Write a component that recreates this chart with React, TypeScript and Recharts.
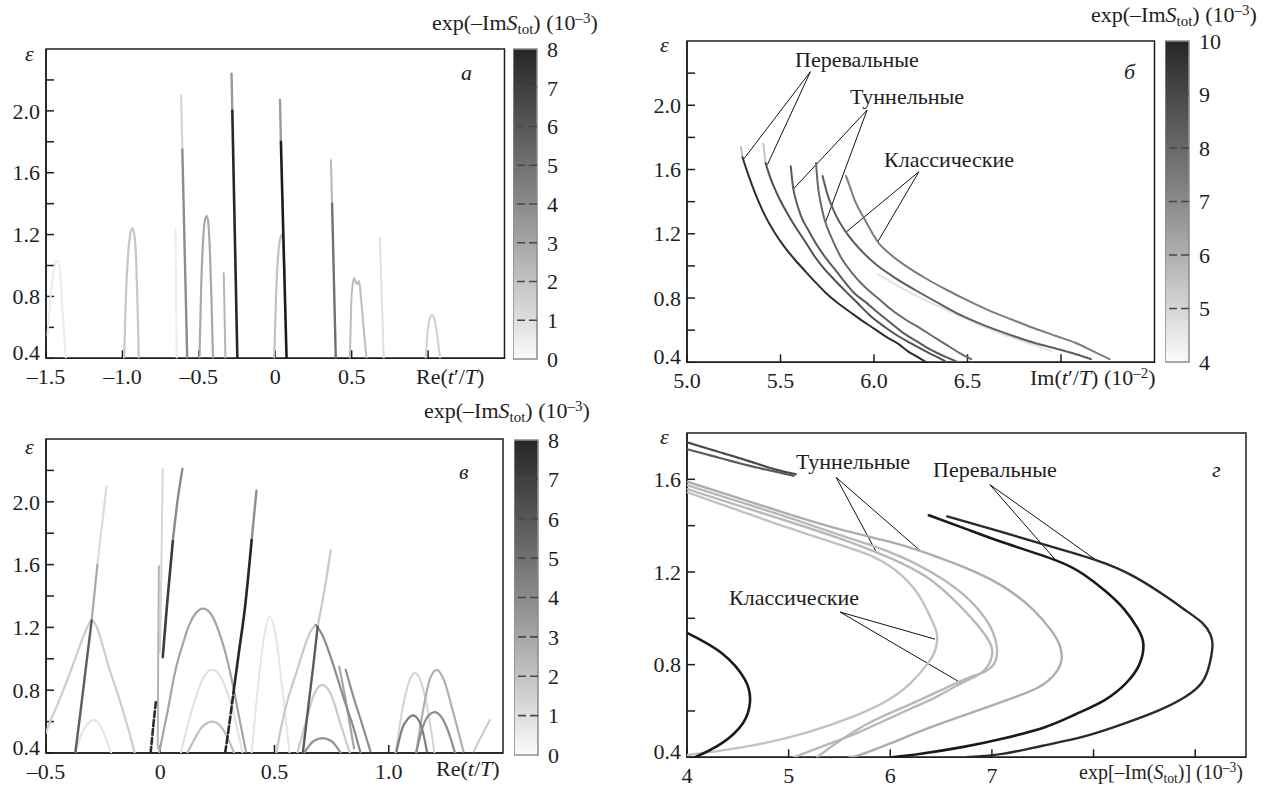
import React from 'react'
import { ScatterChart, Scatter, XAxis, YAxis, ReferenceArea, ReferenceLine } from 'recharts'

const FONT = '"Liberation Serif", "Times New Roman", serif'
const INK = '#1e1e1e'
const FS = 22

// shared ε axis
const epsTicks = [0.4, 0.6, 0.8, 1.0, 1.2, 1.4, 1.6, 1.8, 2.0, 2.2]
const epsText = ['0.4', '', '0.8', '', '1.2', '', '1.6', '', '2.0', '']

// ---- panel а : Re(t'/T) ----
const aXTicks = [-1.5, -1, -0.5, 0, 0.5, 1]
const aXText = ['–1.5', '–1.0', '–0.5', '0', '0.5', '']
const aArchEdge = [[-1.49, 0.55], [-1.47, 0.8], [-1.45, 0.97], [-1.425, 1.03], [-1.405, 0.92], [-1.39, 0.68], [-1.37, 0.4]]
const aArchM095 = [[-0.989, 0.4], [-0.977, 0.8], [-0.962, 1.08], [-0.947, 1.21], [-0.935, 1.24], [-0.922, 1.2], [-0.911, 1.05], [-0.901, 0.75], [-0.893, 0.4]]
const aFaintM065 = [[-0.653, 1.24], [-0.645, 0.4]]
const aLineM06Top = [[-0.616, 2.1], [-0.608, 1.75]]
const aLineM06 = [[-0.608, 1.75], [-0.576, 0.4]]
const aArchM045 = [[-0.496, 0.4], [-0.485, 0.85], [-0.471, 1.18], [-0.459, 1.3], [-0.45, 1.32], [-0.44, 1.29], [-0.43, 1.15], [-0.418, 0.8], [-0.407, 0.4]]
const aShortM033 = [[-0.337, 0.95], [-0.326, 0.4]]
const aDarkM028Top = [[-0.286, 2.24], [-0.281, 2.0]]
const aDarkM028 = [[-0.281, 2.0], [-0.248, 0.4]]
const aArch004 = [[-0.007, 0.4], [0.005, 0.8], [0.02, 1.08], [0.034, 1.18], [0.042, 1.2], [0.05, 1.17], [0.056, 1.05], [0.06, 0.95]]
const aDark005Top = [[0.031, 2.07], [0.037, 1.8]]
const aDark005 = [[0.037, 1.8], [0.074, 0.4]]
const aLine037Top = [[0.364, 1.68], [0.372, 1.4]]
const aLine037 = [[0.372, 1.4], [0.396, 0.4]]
const aArch052 = [[0.488, 0.4], [0.497, 0.75], [0.507, 0.88], [0.516, 0.92], [0.527, 0.89], [0.537, 0.88], [0.548, 0.9], [0.56, 0.8], [0.578, 0.6], [0.597, 0.4]]
const aFaint07 = [[0.684, 1.18], [0.71, 0.4]]
const aArch103 = [[0.984, 0.4], [0.998, 0.58], [1.012, 0.665], [1.025, 0.68], [1.04, 0.66], [1.058, 0.56], [1.079, 0.4]]

// ---- panel б : Im(t'/T) ----
const bXTicks = [5.0, 5.5, 6.0, 6.5, 7.0]
const bXText = ['5.0', '5.5', '6.0', '6.5', '']
const bSaddle1Tip = [[5.288, 1.74], [5.297, 1.675]]
const bSaddle1 = [[5.297, 1.675], [5.33, 1.56], [5.363, 1.456], [5.41, 1.33], [5.469, 1.206], [5.52, 1.12], [5.576, 1.04], [5.63, 0.97], [5.682, 0.904], [5.74, 0.835], [5.806, 0.769], [5.87, 0.715], [5.93, 0.664], [6.0, 0.61], [6.07, 0.555], [6.13, 0.515], [6.18, 0.47], [6.23, 0.435], [6.28, 0.4]]
const bSaddle2Tip = [[5.408, 1.76], [5.42, 1.64]]
const bSaddle2 = [[5.42, 1.64], [5.45, 1.535], [5.487, 1.435], [5.53, 1.34], [5.576, 1.25], [5.63, 1.155], [5.682, 1.06], [5.735, 0.98], [5.788, 0.914], [5.85, 0.84], [5.912, 0.769], [5.98, 0.69], [6.054, 0.623], [6.12, 0.57], [6.196, 0.519], [6.29, 0.46], [6.36, 0.42], [6.39, 0.4]]
const bTunnel1 = [[5.555, 1.62], [5.567, 1.49], [5.585, 1.4], [5.61, 1.31], [5.655, 1.21], [5.7, 1.12], [5.745, 1.045], [5.79, 0.98], [5.84, 0.905], [5.895, 0.83], [5.96, 0.77], [6.02, 0.71], [6.09, 0.645], [6.16, 0.58], [6.23, 0.53], [6.3, 0.48], [6.38, 0.435], [6.45, 0.4]]
const bTunnel2 = [[5.69, 1.64], [5.7, 1.5], [5.715, 1.39], [5.735, 1.29], [5.775, 1.17], [5.82, 1.06], [5.88, 0.96], [5.95, 0.87], [6.02, 0.8], [6.09, 0.73], [6.17, 0.665], [6.25, 0.61], [6.33, 0.55], [6.4, 0.5], [6.47, 0.45], [6.52, 0.42]]
const bClassic1 = [[5.725, 1.56], [5.75, 1.45], [5.79, 1.33], [5.85, 1.21], [5.92, 1.11], [6.0, 1.02], [6.1, 0.935], [6.22, 0.85], [6.35, 0.765], [6.47, 0.69], [6.6, 0.625], [6.73, 0.57], [6.86, 0.52], [6.99, 0.48], [7.08, 0.45], [7.16, 0.42]]
const bClassic2 = [[5.85, 1.56], [5.86, 1.53], [5.9, 1.4], [5.95, 1.29], [6.02, 1.15], [6.09, 1.07], [6.17, 1.0], [6.28, 0.92], [6.39, 0.85], [6.5, 0.785], [6.62, 0.72], [6.74, 0.665], [6.86, 0.61], [6.97, 0.565], [7.08, 0.52], [7.17, 0.47], [7.26, 0.42]]
const bFaint = [[6.02, 0.95], [6.12, 0.88], [6.25, 0.8], [6.4, 0.72], [6.55, 0.64], [6.7, 0.57], [6.85, 0.51], [6.95, 0.47]]

// ---- panel в : Re(t/T) ----
const cXTicks = [-0.5, 0, 0.5, 1.0]
const cXText = ['–0.5', '0', '0.5', '1.0']
const cArchBig = [[-0.5, 0.53], [-0.49, 0.57], [-0.452, 0.7], [-0.395, 0.91], [-0.345, 1.11], [-0.32, 1.2], [-0.3, 1.245], [-0.28, 1.21], [-0.255, 1.1], [-0.23, 0.97], [-0.178, 0.74], [-0.127, 0.485], [-0.112, 0.4]]
const cArchLow = [[-0.37, 0.4], [-0.345, 0.52], [-0.32, 0.58], [-0.293, 0.61], [-0.265, 0.58], [-0.24, 0.5], [-0.215, 0.4]]
const cSteep1 = [[-0.372, 0.4], [-0.35, 0.65], [-0.325, 0.95], [-0.3, 1.245]]
const cSteep1Mid = [[-0.3, 1.245], [-0.275, 1.6]]
const cSteep1Top = [[-0.275, 1.6], [-0.255, 1.85], [-0.235, 2.1]]
const cVertTop = [[-0.001, 1.04], [0.005, 1.6], [0.011, 2.21]]
const cVert = [[-0.011, 0.43], [-0.009, 1.0], [-0.006, 1.59]]
const cVertDark = [[-0.042, 0.4], [-0.03, 0.58], [-0.018, 0.74]]
const cSteep2 = [[0.011, 1.01], [0.03, 1.35], [0.055, 1.75]]
const cSteep2Top = [[0.055, 1.75], [0.075, 2.0], [0.097, 2.21]]
const cArchMid = [[-0.005, 0.4], [0.03, 0.65], [0.067, 0.93], [0.1, 1.1], [0.125, 1.21], [0.155, 1.29], [0.187, 1.32], [0.22, 1.29], [0.255, 1.18], [0.285, 1.04], [0.313, 0.866], [0.345, 0.63], [0.375, 0.41]]
const cArchFaint = [[0.09, 0.4], [0.14, 0.68], [0.185, 0.87], [0.228, 0.93], [0.27, 0.87], [0.315, 0.68], [0.36, 0.4]]
const cArchSmall = [[0.118, 0.4], [0.14, 0.46], [0.18, 0.56], [0.228, 0.6], [0.27, 0.56], [0.3, 0.48], [0.323, 0.4]]
const cSteep3Low = [[0.284, 0.4], [0.3, 0.56], [0.32, 0.78]]
const cSteep3 = [[0.32, 0.78], [0.345, 1.05], [0.371, 1.33], [0.4, 1.756]]
const cSteep3Top = [[0.4, 1.756], [0.421, 2.07]]
const cArchFaint2 = [[0.4, 0.4], [0.43, 0.85], [0.455, 1.15], [0.479, 1.27], [0.505, 1.15], [0.535, 0.8], [0.566, 0.4]]
const cArchRightL = [[0.508, 0.4], [0.53, 0.57], [0.56, 0.75], [0.595, 0.909], [0.63, 1.07], [0.66, 1.18], [0.681, 1.216]]
const cArchRightR = [[0.681, 1.216], [0.71, 1.15], [0.746, 1.01], [0.775, 0.88], [0.805, 0.74], [0.848, 0.55], [0.877, 0.4]]
const cSteep4 = [[0.624, 0.4], [0.65, 0.72], [0.67, 0.96], [0.689, 1.205]]
const cSteep4Top = [[0.689, 1.205], [0.72, 1.45], [0.746, 1.69]]
const cArch084 = [[0.6, 0.4], [0.638, 0.6], [0.675, 0.78], [0.71, 0.834], [0.745, 0.78], [0.79, 0.58], [0.83, 0.4]]
const cArch050 = [[0.63, 0.4], [0.67, 0.475], [0.71, 0.495], [0.75, 0.475], [0.79, 0.4]]
const cLeg1 = [[0.783, 0.95], [0.81, 0.75], [0.83, 0.58], [0.848, 0.43]]
const cLeg2 = [[0.812, 0.93], [0.845, 0.76], [0.88, 0.6], [0.92, 0.41]]
const cArchR1 = [[1.03, 0.4], [1.06, 0.68], [1.09, 0.86], [1.114, 0.91], [1.14, 0.86], [1.17, 0.68], [1.2, 0.4]]
const cArchR2 = [[1.12, 0.4], [1.15, 0.67], [1.18, 0.87], [1.21, 0.93], [1.24, 0.87], [1.28, 0.67], [1.327, 0.41]]
const cArchR3 = [[1.034, 0.41], [1.06, 0.56], [1.085, 0.62], [1.105, 0.64], [1.13, 0.61], [1.15, 0.53], [1.167, 0.41]]
const cArchR4 = [[1.12, 0.4], [1.15, 0.57], [1.175, 0.64], [1.2, 0.66], [1.23, 0.63], [1.26, 0.54], [1.29, 0.4]]
const cLegR = [[1.372, 0.41], [1.41, 0.52], [1.443, 0.61]]

// ---- panel г : exp[-Im(S_tot)] ----
const dXTicks = [4, 5, 6, 7, 8, 9]
const dXText = ['4', '5', '6', '7', '', '']
const dYTicks = [0.4, 0.6, 0.8, 1.0, 1.2, 1.4, 1.6]
const dYText = ['0.4', '', '0.8', '', '1.2', '', '1.6']
const dTopUpper = [[4.0, 1.76], [4.3, 1.72], [4.6, 1.68], [4.85, 1.645], [5.07, 1.622]]
const dTopLower = [[4.0, 1.73], [4.3, 1.695], [4.6, 1.66], [4.85, 1.635], [5.05, 1.615]]
const dLight1 = [[4.0, 1.544], [4.5, 1.467], [5.0, 1.39], [5.5, 1.318], [5.85, 1.262], [6.1, 1.19], [6.28, 1.1], [6.4, 1.0], [6.46, 0.93], [6.44, 0.86], [6.36, 0.8], [6.2, 0.72], [5.95, 0.64], [5.6, 0.57], [5.2, 0.51], [4.75, 0.46], [4.35, 0.43], [4.0, 0.41]]
const dLight2 = [[4.0, 1.558], [4.5, 1.488], [5.0, 1.418], [5.5, 1.345], [6.0, 1.26], [6.35, 1.18], [6.6, 1.09], [6.8, 1.0], [6.93, 0.93], [7.0, 0.87], [6.98, 0.81], [6.88, 0.76], [6.7, 0.72], [6.45, 0.66], [6.1, 0.59], [5.7, 0.51], [5.35, 0.45], [5.05, 0.4]]
const dLight3 = [[4.0, 1.575], [4.5, 1.505], [5.0, 1.435], [5.5, 1.36], [6.0, 1.285], [6.4, 1.2], [6.7, 1.11], [6.9, 1.02], [7.01, 0.94], [7.05, 0.87], [7.03, 0.81], [6.93, 0.77], [6.75, 0.74], [6.5, 0.69], [6.15, 0.62], [5.8, 0.55], [5.5, 0.47], [5.28, 0.4]]
const dLight4 = [[4.0, 1.59], [4.5, 1.52], [5.0, 1.45], [5.5, 1.385], [6.0, 1.33], [6.3, 1.29], [6.7, 1.225], [7.1, 1.14], [7.4, 1.04], [7.58, 0.95], [7.67, 0.88], [7.68, 0.81], [7.6, 0.75], [7.45, 0.7], [7.2, 0.655], [6.85, 0.6], [6.4, 0.53], [6.0, 0.46], [5.7, 0.41], [5.6, 0.4]]
const dDark1 = [[6.38, 1.445], [6.75, 1.385], [7.12, 1.326], [7.63, 1.25], [7.9, 1.19], [8.11, 1.12], [8.3, 1.04], [8.43, 0.96], [8.49, 0.89], [8.45, 0.8], [8.32, 0.72], [8.11, 0.647], [7.82, 0.585], [7.52, 0.53], [7.1, 0.48], [6.72, 0.445], [6.3, 0.415], [6.02, 0.4]]
const dDark2 = [[6.56, 1.44], [7.0, 1.385], [7.5, 1.32], [8.03, 1.25], [8.4, 1.18], [8.71, 1.095], [8.92, 1.03], [9.07, 0.98], [9.15, 0.93], [9.17, 0.878], [9.14, 0.8], [9.07, 0.725], [8.9, 0.66], [8.63, 0.6], [8.3, 0.545], [7.91, 0.49], [7.5, 0.45], [7.12, 0.416], [6.75, 0.4]]
const dDarkC = [[4.0, 0.937], [4.34, 0.85], [4.57, 0.735], [4.62, 0.64], [4.55, 0.547], [4.34, 0.46], [4.08, 0.4]]

// colour bar ticks
const cbTicks8 = [0, 1, 2, 3, 4, 5, 6, 7, 8]
const cbTicks10 = [4, 5, 6, 7, 8, 9, 10]

// leader lines (annotation anchor -> curve), in data units
const bLeaders = [
  [[5.66, 2.209], [5.3, 1.66]],
  [[5.66, 2.209], [5.43, 1.63]],
  [[5.963, 1.97], [5.57, 1.48]],
  [[5.963, 1.97], [5.74, 1.27]],
  [[6.24, 1.586], [5.85, 1.21]],
  [[6.24, 1.586], [6.02, 1.15]],
]
const dLeaders = [
  [[5.468, 1.608], [5.87, 1.28]],
  [[5.468, 1.608], [6.3, 1.29]],
  [[6.98, 1.577], [7.63, 1.25]],
  [[6.98, 1.577], [8.03, 1.25]],
  [[5.507, 1.027], [6.44, 0.91]],
  [[5.507, 1.027], [6.7, 0.72]],
]

type Pts = number[][]
type Series = { pts: Pts; color: string; w: number; dash?: string }

const seriesA: Series[] = [
  { pts: aArchEdge, color: '#ebebeb', w: 2 },
  { pts: aFaintM065, color: '#ececec', w: 2 },
  { pts: aFaint07, color: '#e0e0e0', w: 2 },
  { pts: aArch103, color: '#d0d0d0', w: 2 },
  { pts: aArchM095, color: '#c6c6c6', w: 2.2 },
  { pts: aArch052, color: '#bdbdbd', w: 2 },
  { pts: aArch004, color: '#c2c2c2', w: 2.2 },
  { pts: aShortM033, color: '#b5b5b5', w: 2 },
  { pts: aArchM045, color: '#a9a9a9', w: 2.2 },
  { pts: aLineM06Top, color: '#d6d6d6', w: 2.2 },
  { pts: aLineM06, color: '#8c8c8c', w: 2.4 },
  { pts: aLine037Top, color: '#bcbcbc', w: 2.2 },
  { pts: aLine037, color: '#707070', w: 2.4 },
  { pts: aDarkM028Top, color: '#9a9a9a', w: 2.4 },
  { pts: aDarkM028, color: '#262626', w: 2.6 },
  { pts: aDark005Top, color: '#9a9a9a', w: 2.4 },
  { pts: aDark005, color: '#1c1c1c', w: 2.6 },
]

const seriesB: Series[] = [
  { pts: bFaint, color: '#e2e2e2', w: 2 },
  { pts: bClassic2, color: '#7c7c7c', w: 2 },
  { pts: bClassic1, color: '#5e5e5e', w: 2 },
  { pts: bTunnel2, color: '#6a6a6a', w: 2 },
  { pts: bTunnel1, color: '#5a5a5a', w: 2 },
  { pts: bSaddle2Tip, color: '#c4c4c4', w: 2 },
  { pts: bSaddle2, color: '#505050', w: 2 },
  { pts: bSaddle1Tip, color: '#bdbdbd', w: 2 },
  { pts: bSaddle1, color: '#2e2e2e', w: 2 },
]

const seriesC: Series[] = [
  { pts: cArchLow, color: '#e4e4e4', w: 2 },
  { pts: cArchFaint, color: '#e0e0e0', w: 2 },
  { pts: cArchFaint2, color: '#e6e6e6', w: 2 },
  { pts: cArchR1, color: '#d4d4d4', w: 2 },
  { pts: cLegR, color: '#c8c8c8', w: 2 },
  { pts: cArchBig, color: '#cdcdcd', w: 2.2 },
  { pts: cArch084, color: '#cbcbcb', w: 2.2 },
  { pts: cArchSmall, color: '#bebebe', w: 2.2 },
  { pts: cArchRightL, color: '#c9c9c9', w: 2.2 },
  { pts: cArchMid, color: '#a4a4a4', w: 2.2 },
  { pts: cArchR2, color: '#b0b0b0', w: 2.2 },
  { pts: cLeg1, color: '#a6a6a6', w: 2.2 },
  { pts: cLeg2, color: '#8e8e8e', w: 2.2 },
  { pts: cArchRightR, color: '#8c8c8c', w: 2.2 },
  { pts: cArch050, color: '#949494', w: 2.2 },
  { pts: cArchR3, color: '#7e7e7e', w: 2.2 },
  { pts: cArchR4, color: '#8e8e8e', w: 2.2 },
  { pts: cVertTop, color: '#d6d6d6', w: 2 },
  { pts: cVert, color: '#b4b4b4', w: 2 },
  { pts: cSteep1Top, color: '#dcdcdc', w: 2.2 },
  { pts: cSteep1Mid, color: '#a8a8a8', w: 2.2 },
  { pts: cSteep1, color: '#5e5e5e', w: 2.4 },
  { pts: cSteep4Top, color: '#c8c8c8', w: 2.2 },
  { pts: cSteep4, color: '#5a5a5a', w: 2.4 },
  { pts: cSteep2Top, color: '#8a8a8a', w: 2.4 },
  { pts: cSteep2, color: '#3c3c3c', w: 2.6 },
  { pts: cVertDark, color: '#2e2e2e', w: 2.6, dash: '6 3' },
  { pts: cSteep3Top, color: '#8e8e8e', w: 2.4 },
  { pts: cSteep3, color: '#262626', w: 2.6 },
  { pts: cSteep3Low, color: '#262626', w: 2.6, dash: '7 3' },
]

const seriesD: Series[] = [
  { pts: dLight1, color: '#c2c2c2', w: 2.4 },
  { pts: dLight2, color: '#b8b8b8', w: 2.4 },
  { pts: dLight3, color: '#b8b8b8', w: 2.4 },
  { pts: dLight4, color: '#adadad', w: 2.4 },
  { pts: dTopUpper, color: '#4a4a4a', w: 2.2, dash: '3 1' },
  { pts: dTopLower, color: '#5a5a5a', w: 2.2, dash: '3 1' },
  { pts: dDark1, color: '#1a1a1a', w: 2.6 },
  { pts: dDark2, color: '#2a2a2a', w: 2.4 },
  { pts: dDarkC, color: '#1a1a1a', w: 2.6 },
]

const tickFont = { fontFamily: FONT, fontSize: FS, fill: INK }
const NoDot = () => <g />

// left-axis tick: the lowest label is nudged up so it clears the first x label
const makeYTick = (texts: string[]) => (props: any) => {
  const { x, y, index } = props
  const lift = index === 0 ? 6 : 0
  return (
    <text x={x} y={y - lift} dy="0.35em" textAnchor="end" fontFamily={FONT} fontSize={FS} fill={INK}>
      {texts[index]}
    </text>
  )
}

type PanelProps = {
  box: { x0: number; y0: number; x1: number; y1: number }
  xDomain: [number, number]
  yDomain: [number, number]
  xTicks: number[]
  xText: string[]
  yTicks: number[]
  yText: string[]
  series: Series[]
  leaders?: number[][][]
  curve?: 'monotoneX' | 'natural'
}

function Panel({ box, xDomain, yDomain, xTicks, xText, yTicks, yText, series, leaders = [], curve = 'monotoneX' }: PanelProps) {
  const padL = 60
  const padT = 10
  const padR = 10
  const padB = 40
  const w = box.x1 - box.x0
  const h = box.y1 - box.y0
  return (
    <div style={{ position: 'absolute', left: box.x0 - padL, top: box.y0 - padT }}>
      <ScatterChart width={w + padL + padR} height={h + padT + padB} margin={{ top: padT, right: padR, bottom: 0, left: 0 }}>
        <XAxis
          type="number"
          dataKey="x"
          domain={xDomain}
          ticks={xTicks}
          interval={0}
          allowDataOverflow
          height={padB}
          tickFormatter={(_v: number, i: number) => xText[i]}
          tickSize={-8}
          tickMargin={18}
          axisLine={{ stroke: INK, strokeWidth: 1.5 }}
          tickLine={{ stroke: INK, strokeWidth: 1.5 }}
          tick={tickFont}
        />
        <YAxis
          type="number"
          dataKey="y"
          domain={yDomain}
          ticks={yTicks}
          interval={0}
          allowDataOverflow
          width={padL}
          tickSize={-8}
          tickMargin={14}
          axisLine={{ stroke: INK, strokeWidth: 1.5 }}
          tickLine={{ stroke: INK, strokeWidth: 1.5 }}
          tick={makeYTick(yText)}
        />
        <ReferenceArea x1={xDomain[0]} x2={xDomain[1]} y1={yDomain[0]} y2={yDomain[1]} fill="none" stroke={INK} strokeWidth={1.5} />
        {series.map((s, i) => (
          <Scatter
            key={i}
            data={s.pts.map(([x, y]) => ({ x, y }))}
            fill={s.color}
            shape={NoDot}
            line={{ stroke: s.color, strokeWidth: s.w, strokeDasharray: s.dash, strokeLinecap: 'round' }}
            lineJointType={curve}
            isAnimationActive={false}
          />
        ))}
        {leaders.map(([p, q], i) => (
          <ReferenceLine
            key={'l' + i}
            segment={[{ x: p[0], y: p[1] }, { x: q[0], y: q[1] }]}
            stroke="#111"
            strokeWidth={1}
            ifOverflow="visible"
          />
        ))}
      </ScatterChart>
    </div>
  )
}

function ColorBar({ left, top, height, ticks, gid }: { left: number; top: number; height: number; ticks: number[]; gid: string }) {
  const min = ticks[0]
  const max = ticks[ticks.length - 1]
  return (
    <div style={{ position: 'absolute', left, top: top - 12 }}>
      <ScatterChart width={24 + 44} height={height + 24} margin={{ top: 12, right: 0, bottom: 12, left: 0 }}>
        <defs>
          <linearGradient id={gid} x1="0" y1="1" x2="0" y2="0">
            <stop offset="0%" stopColor="#fbfbfb" />
            <stop offset="50%" stopColor="#8a8a8a" />
            <stop offset="100%" stopColor="#262626" />
          </linearGradient>
        </defs>
        <XAxis type="number" dataKey="x" domain={[0, 1]} hide allowDataOverflow />
        <YAxis
          type="number"
          dataKey="y"
          orientation="right"
          domain={[min, max]}
          ticks={ticks}
          interval={0}
          allowDataOverflow
          width={44}
          tickSize={0}
          tickMargin={10}
          axisLine={false}
          tickLine={false}
          tick={tickFont}
        />
        <ReferenceArea x1={0} x2={1} y1={min} y2={max} fill={`url(#${gid})`} fillOpacity={1} stroke="#8c8c8c" strokeWidth={1.5} />
        {ticks.slice(1, -1).map((t) => (
          <ReferenceLine key={t} y={t} stroke="#474747" strokeWidth={1.6} strokeDasharray="8 4" />
        ))}
      </ScatterChart>
    </div>
  )
}

function Txt({ x, y, children, size = FS, italic = false }: { x: number; y: number; children: React.ReactNode; size?: number; italic?: boolean }) {
  return (
    <div
      style={{
        position: 'absolute',
        left: x,
        top: y,
        transform: 'translateY(-50%)',
        fontFamily: FONT,
        fontSize: size,
        fontStyle: italic ? 'italic' : 'normal',
        lineHeight: 1,
        whiteSpace: 'nowrap',
        color: INK,
      }}
    >
      {children}
    </div>
  )
}

const Sub = ({ children }: { children: React.ReactNode }) => (
  <span style={{ fontSize: '0.68em', verticalAlign: '-0.28em', lineHeight: 0 }}>{children}</span>
)
const Sup = ({ children }: { children: React.ReactNode }) => (
  <span style={{ fontSize: '0.68em', verticalAlign: '0.5em', lineHeight: 0 }}>{children}</span>
)
const I = ({ children }: { children: React.ReactNode }) => <span style={{ fontStyle: 'italic' }}>{children}</span>

const Title = () => (
  <>
    exp(–Im<I>S</I>
    <Sub>tot</Sub>) (10<Sup>–3</Sup>)
  </>
)

export default function App() {
  return (
    <div style={{ position: 'relative', width: 1271, height: 787, background: '#fff', overflow: 'hidden' }}>
      <style>{'body{margin:0}'}</style>

      {/* а */}
      <Panel
        box={{ x0: 45.5, y0: 49, x1: 504, y1: 358.3 }}
        xDomain={[-1.5, 1.5]}
        yDomain={[0.4, 2.4]}
        xTicks={aXTicks}
        xText={aXText}
        yTicks={epsTicks}
        yText={epsText}
        series={seriesA}
      />
      <ColorBar left={513} top={49} height={310} ticks={cbTicks8} gid="cbA" />
      <Txt x={432} y={23}><Title /></Txt>
      <Txt x={461} y={73} italic>а</Txt>
      <Txt x={25} y={54} italic>ε</Txt>
      <Txt x={416} y={377}>Re(<I>t</I>′/<I>T</I>)</Txt>

      {/* б */}
      <Panel
        box={{ x0: 686.5, y0: 41, x1: 1154, y1: 362.3 }}
        xDomain={[5, 7.5]}
        yDomain={[0.4, 2.4]}
        xTicks={bXTicks}
        xText={bXText}
        yTicks={epsTicks}
        yText={epsText}
        series={seriesB}
        leaders={bLeaders}
      />
      <ColorBar left={1165} top={41} height={321} ticks={cbTicks10} gid="cbB" />
      <Txt x={1091} y={15}><Title /></Txt>
      <Txt x={1124} y={72} italic>б</Txt>
      <Txt x={660} y={45} italic>ε</Txt>
      <Txt x={1030} y={378}>Im(<I>t</I>′/<I>T</I>) (10<Sup>–2</Sup>)</Txt>
      <Txt x={795} y={60}>Перевальные</Txt>
      <Txt x={850} y={97}>Туннельные</Txt>
      <Txt x={884} y={160}>Классические</Txt>

      {/* в */}
      <Panel
        box={{ x0: 46, y0: 439.3, x1: 503, y1: 753.3 }}
        xDomain={[-0.5, 1.5]}
        yDomain={[0.4, 2.4]}
        xTicks={cXTicks}
        xText={cXText}
        yTicks={epsTicks}
        yText={epsText}
        series={seriesC}
      />
      <ColorBar left={514} top={440} height={315} ticks={cbTicks8} gid="cbC" />
      <Txt x={424} y={411}><Title /></Txt>
      <Txt x={459} y={472} italic>в</Txt>
      <Txt x={25} y={447} italic>ε</Txt>
      <Txt x={436} y={769}>Re(<I>t</I>/<I>T</I>)</Txt>

      {/* г */}
      <Panel
        box={{ x0: 687, y0: 432.7, x1: 1246, y1: 757 }}
        xDomain={[4, 9.5]}
        yDomain={[0.4, 1.8]}
        xTicks={dXTicks}
        xText={dXText}
        yTicks={dYTicks}
        yText={dYText}
        series={seriesD}
        leaders={dLeaders}
        curve="natural"
      />
      <Txt x={1212} y={470} italic>г</Txt>
      <Txt x={660} y={437} italic>ε</Txt>
      <Txt x={1079} y={772} size={20}>
        exp[–Im(<I>S</I>
        <Sub>tot</Sub>)] (10<Sup>–3</Sup>)
      </Txt>
      <Txt x={796} y={462}>Туннельные</Txt>
      <Txt x={933} y={470}>Перевальные</Txt>
      <Txt x={729} y={598}>Классические</Txt>
    </div>
  )
}
